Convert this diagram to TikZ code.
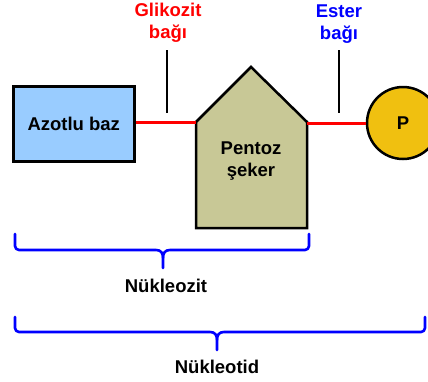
\documentclass[tikz,border=0pt]{standalone}
\usepackage{fontspec}
\setmainfont{Liberation Sans}
\definecolor{boxblue}{HTML}{99CCFF}
\definecolor{sugar}{HTML}{C8C896}
\definecolor{pgold}{HTML}{F0C010}
\definecolor{bondred}{HTML}{FF0000}
\definecolor{braceblue}{HTML}{0000FF}
\begin{document}
\begin{tikzpicture}[x=1pt,y=-1pt,
  lbl/.style={font=\fontsize{18.5}{22}\selectfont\bfseries, inner sep=0pt, align=center},
  outline/.style={draw=black, line width=2.5pt, line join=miter},
  bond/.style={draw=bondred, line width=3pt},
  tick/.style={draw=black, line width=2pt},
  bracepath/.style={draw=braceblue, line width=2.6pt, line join=round, line cap=round}]
\useasboundingbox (0,0) rectangle (428,381);
% Azotlu baz
\node[outline, fill=boxblue, minimum width=121pt, minimum height=75pt, anchor=north west, lbl] (baz) at (12,85) {Azotlu baz};
% Pentoz seker shape
\coordinate (sl) at (196,122);
\coordinate (sr) at (307,122);
\coordinate (apex) at (251,67);
\coordinate (bl) at (196,228);
\coordinate (br) at (307,228);
\draw[outline, fill=sugar] (bl) -- (sl) -- (apex) -- (sr) -- (br) -- cycle;
\node[lbl] (pentoz) at (251,161) {Pentoz\\şeker};
% Phosphate
\node[circle, outline, fill=pgold, minimum size=72pt, inner sep=0pt, lbl] (p) at (403,123) {P};
% bonds
\draw[bond] (baz.east |- sl) -- (sl);
\draw[bond] (sr |- p.west) -- (p.west);
% ticks and labels
\coordinate (g1) at (167,50);
\coordinate (g2) at (167,113);
\coordinate (e1) at (339,50);
\coordinate (e2) at (339,113);
\draw[tick] (g1) -- (g2);
\draw[tick] (e1) -- (e2);
\node[lbl, text=bondred] (glik) at (168,23) {Glikozit\\bağı};
\node[lbl, text=braceblue] (ester) at (339,24) {Ester\\bağı};
% braces
\draw[bracepath] (15,234) -- (15,246) arc[start angle=180, end angle=90, radius=4] -- (156,250)
  .. controls (161,250) and (163,253) .. (163,258) -- (163,268);
\draw[bracepath] (163,258) .. controls (163,253) and (165,250) .. (170,250) -- (305,250)
  arc[start angle=90, end angle=0, radius=4] -- (309,234);
\node[lbl] (nukleozit) at (166,286) {Nükleozit};
\draw[bracepath] (15,317) -- (15,328) arc[start angle=180, end angle=90, radius=4] -- (210,332)
  .. controls (215,332) and (217,335) .. (217,340) -- (217,350);
\draw[bracepath] (217,340) .. controls (217,335) and (219,332) .. (224,332) -- (421,332)
  arc[start angle=90, end angle=0, radius=4] -- (425,317);
\node[lbl] (nukleotid) at (217,367) {Nükleotid};
\end{tikzpicture}
\end{document}
